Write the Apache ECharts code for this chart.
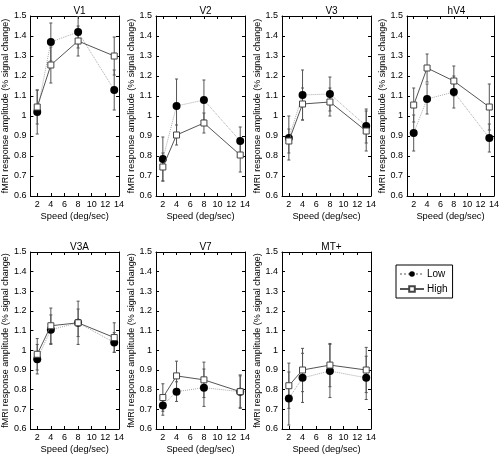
<!DOCTYPE html>
<html>
<head>
<meta charset="utf-8">
<script src="https://cdn.jsdelivr.net/npm/echarts@6/dist/echarts.min.js"></script>
<style>html,body{margin:0;padding:0;background:#fff;}#c{width:502px;height:455px;}</style>
</head>
<body>
<div id="c"></div>
<script>
// ---- data ----
const regions = ['V1', 'V2', 'V3', 'hV4', 'V3A', 'V7', 'MT+'];
const speeds = [2, 4, 8, 13.3];
const xTicks = [2, 4, 6, 8, 10, 12, 14];
const yTicks = [0.6, 0.7, 0.8, 0.9, 1.0, 1.1, 1.2, 1.3, 1.4, 1.5];

const v1Low = [1.02, 1.37, 1.42, 1.13];
const v1LowErr = [0.11, 0.095, 0.08, 0.10];
const v1High = [1.045, 1.255, 1.375, 1.30];
const v1HighErr = [0.085, 0.09, 0.075, 0.095];

const v2Low = [0.785, 1.05, 1.08, 0.875];
const v2LowErr = [0.11, 0.135, 0.10, 0.07];
const v2High = [0.745, 0.905, 0.965, 0.805];
const v2HighErr = [0.07, 0.05, 0.05, 0.085];

const v3Low = [0.89, 1.105, 1.11, 0.95];
const v3LowErr = [0.11, 0.125, 0.085, 0.085];
const v3High = [0.875, 1.06, 1.07, 0.925];
const v3HighErr = [0.06, 0.08, 0.07, 0.10];

const hv4Low = [0.915, 1.085, 1.12, 0.89];
const hv4LowErr = [0.09, 0.075, 0.08, 0.07];
const hv4High = [1.055, 1.24, 1.175, 1.045];
const hv4HighErr = [0.085, 0.07, 0.075, 0.115];

const v3aLow = [0.955, 1.105, 1.14, 1.04];
const v3aLowErr = [0.075, 0.075, 0.11, 0.05];
const v3aHigh = [0.98, 1.125, 1.14, 1.065];
const v3aHighErr = [0.08, 0.09, 0.07, 0.075];

const v7Low = [0.72, 0.79, 0.81, 0.79];
const v7LowErr = [0.05, 0.05, 0.095, 0.08];
const v7High = [0.76, 0.87, 0.85, 0.79];
const v7HighErr = [0.07, 0.075, 0.09, 0.085];

const mtLow = [0.755, 0.86, 0.895, 0.86];
const mtLowErr = [0.135, 0.125, 0.135, 0.11];
const mtHigh = [0.82, 0.90, 0.925, 0.90];
const mtHighErr = [0.115, 0.11, 0.11, 0.115];

const lowMeans = [v1Low, v2Low, v3Low, hv4Low, v3aLow, v7Low, mtLow];
const lowErrs = [v1LowErr, v2LowErr, v3LowErr, hv4LowErr, v3aLowErr, v7LowErr, mtLowErr];
const highMeans = [v1High, v2High, v3High, hv4High, v3aHigh, v7High, mtHigh];
const highErrs = [v1HighErr, v2HighErr, v3HighErr, hv4HighErr, v3aHighErr, v7HighErr, mtHighErr];

// ---- layout ----
const lefts = [30, 156, 282, 407, 30, 156, 282];
const tops = [16, 16, 16, 16, 252, 252, 252];
const W = 89, H = 180;
const FONT = '"Liberation Sans", Arial, Helvetica, sans-serif';

const grid = [], xAxis = [], yAxis = [], series = [], title = [];

function errRender(params, api) {
  const x = api.value(0), lo = api.value(1), hi = api.value(2);
  const a = api.coord([x, lo]), b = api.coord([x, hi]);
  const cap = 1.5;
  const st = { stroke: '#555', lineWidth: 1 };
  return {
    type: 'group',
    children: [
      { type: 'line', shape: { x1: a[0], y1: a[1], x2: b[0], y2: b[1] }, style: st },
      { type: 'line', shape: { x1: a[0] - cap, y1: a[1], x2: a[0] + cap, y2: a[1] }, style: st },
      { type: 'line', shape: { x1: b[0] - cap, y1: b[1], x2: b[0] + cap, y2: b[1] }, style: st }
    ]
  };
}

regions.forEach((name, i) => {
  grid.push({ left: lefts[i], top: tops[i], width: W, height: H, containLabel: false });
  title.push({
    text: name, left: lefts[i] + W / 2, top: tops[i] - 15, textAlign: 'center',
    textStyle: { fontSize: 10, fontWeight: 'normal', color: '#000', fontFamily: FONT }
  });
  const axLine = { show: true, onZero: false, lineStyle: { color: '#000', width: 1 } };
  xAxis.push({
    gridIndex: i, type: 'value', position: 'bottom', min: 1, max: 14,
    axisLine: axLine,
    axisTick: { show: true, inside: true, length: 3, customValues: xTicks, lineStyle: { color: '#000' } },
    axisLabel: { customValues: xTicks, fontSize: 9, color: '#000', margin: 4, fontFamily: FONT, hideOverlap: false },
    splitLine: { show: false },
    name: 'Speed (deg/sec)', nameLocation: 'middle', nameGap: 16,
    nameTextStyle: { fontSize: 9.3, color: '#000', fontFamily: FONT }
  });
  xAxis.push({
    gridIndex: i, type: 'value', position: 'top', min: 1, max: 14,
    axisLine: axLine,
    axisTick: { show: true, inside: true, length: 3, customValues: xTicks, lineStyle: { color: '#000' } },
    axisLabel: { show: false },
    splitLine: { show: false }
  });
  yAxis.push({
    gridIndex: i, type: 'value', position: 'left', min: 0.6, max: 1.5,
    axisLine: axLine,
    axisTick: { show: true, inside: true, length: 3, customValues: yTicks, lineStyle: { color: '#000' } },
    axisLabel: {
      customValues: yTicks, fontSize: 9, color: '#000', margin: 4, fontFamily: FONT, hideOverlap: false,
      formatter: v => String(parseFloat(Number(v).toFixed(1)))
    },
    splitLine: { show: false },
    name: 'fMRI response amplitude (% signal change)', nameLocation: 'middle', nameGap: 18,
    nameRotate: 90,
    nameTextStyle: { fontSize: 9, color: '#000', fontFamily: FONT }
  });
  yAxis.push({
    gridIndex: i, type: 'value', position: 'right', min: 0.6, max: 1.5,
    axisLine: axLine,
    axisTick: { show: true, inside: true, length: 3, customValues: yTicks, lineStyle: { color: '#000' } },
    axisLabel: { show: false },
    splitLine: { show: false }
  });

  const xi = 2 * i, yi = 2 * i;
  const lowErrData = speeds.map((s, k) => [s, lowMeans[i][k] - lowErrs[i][k], lowMeans[i][k] + lowErrs[i][k]]);
  const highErrData = speeds.map((s, k) => [s, highMeans[i][k] - highErrs[i][k], highMeans[i][k] + highErrs[i][k]]);
  series.push({
    type: 'custom', name: 'lowErr', xAxisIndex: xi, yAxisIndex: yi, renderItem: errRender,
    data: lowErrData, z: 1, silent: true, clip: true
  });
  series.push({
    type: 'custom', name: 'highErr', xAxisIndex: xi, yAxisIndex: yi, renderItem: errRender,
    data: highErrData, z: 1, silent: true, clip: true
  });
  series.push({
    type: 'line', name: 'Low', xAxisIndex: xi, yAxisIndex: yi,
    data: speeds.map((s, k) => [s, lowMeans[i][k]]),
    symbol: 'circle', symbolSize: 8,
    lineStyle: { type: 'dotted', color: '#aaa', width: 1 },
    itemStyle: { color: '#000', borderColor: '#000', borderWidth: 0 },
    z: 3, animation: false
  });
  series.push({
    type: 'line', name: 'High', xAxisIndex: xi, yAxisIndex: yi,
    data: speeds.map((s, k) => [s, highMeans[i][k]]),
    symbol: 'rect', symbolSize: 6,
    lineStyle: { type: 'solid', color: '#555', width: 1 },
    itemStyle: { color: '#fff', borderColor: '#444', borderWidth: 1 },
    z: 4, animation: false
  });
});

const chart = echarts.init(document.getElementById('c'), null, { renderer: 'canvas' });
chart.setOption({
  animation: false,
  backgroundColor: '#fff',
  title: title,
  grid: grid,
  xAxis: xAxis,
  yAxis: yAxis,
  legend: {
    data: ['Low', 'High'], orient: 'vertical', left: 396, top: 265,
    borderColor: '#000', borderWidth: 1, borderRadius: 0,
    padding: [4, 5, 4, 3], itemWidth: 24, itemHeight: 7, itemGap: 5,
    textStyle: { fontSize: 10, color: '#000', fontFamily: FONT, padding: [0, 0, 0, -2] }
  },
  series: series
});
</script>
</body>
</html>
